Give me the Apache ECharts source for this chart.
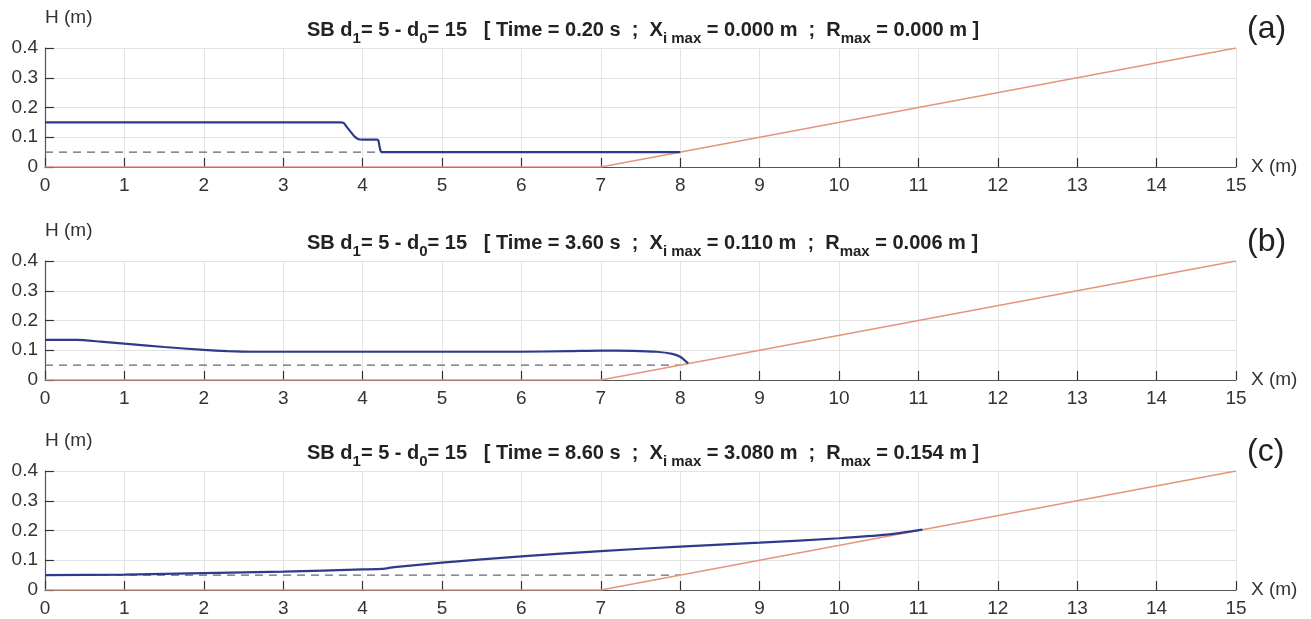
<!DOCTYPE html>
<html><head><meta charset="utf-8">
<script src="https://cdn.jsdelivr.net/npm/echarts@6/dist/echarts.min.js"></script>
<style>html,body{margin:0;padding:0;background:#fff}#c{width:1311px;height:619px}</style>
</head><body><div id="c"></div>
<script>
// ---- data ----
const xTicks = [0,1,2,3,4,5,6,7,8,9,10,11,12,13,14,15];
const yTicks = [0,0.1,0.2,0.3,0.4];
const bedX = [0, 7, 15];
const bedH = [0, 0, 0.4];
const swlX = [0, 8];
const swlH = [0.05, 0.05];
const waveA_X = [0, 3.72, 3.76, 3.8, 3.85, 3.9, 3.95, 4.0, 4.18, 4.2, 4.22, 4.24, 8.0];
const waveA_H = [0.15, 0.15, 0.148, 0.135, 0.118, 0.102, 0.093, 0.092, 0.092, 0.088, 0.06, 0.05, 0.05];
const waveB_X = [0, 0.4, 0.7, 1, 1.5, 2, 2.3, 2.6, 4, 5, 6, 6.6, 7.0, 7.4, 7.7, 7.9, 8.0, 8.1];
const waveB_H = [0.135, 0.135, 0.129, 0.122, 0.111, 0.101, 0.097, 0.095, 0.095, 0.095, 0.095, 0.097, 0.099, 0.098, 0.095, 0.088, 0.078, 0.056];
const waveC_X = [0, 1, 2, 3, 4, 4.25, 4.4, 5, 6, 7, 8, 9, 10, 10.6, 11.05];
const waveC_H = [0.05, 0.052, 0.057, 0.062, 0.069, 0.071, 0.077, 0.092, 0.113, 0.131, 0.146, 0.159, 0.174, 0.186, 0.203];
const times = ['0.20', '3.60', '8.60'];
const ximax = ['0.000', '0.110', '3.080'];
const rmax = ['0.000', '0.006', '0.154'];
const panelLabels = ['(a)', '(b)', '(c)'];
const waves = [[waveA_X, waveA_H], [waveB_X, waveB_H], [waveC_X, waveC_H]];

// ---- layout ----
const gridTops = [48, 261, 471];
const gridH = 119;
const FONT = '"Liberation Sans", Arial, sans-serif';

const zip = (xs, ys) => xs.map((x, i) => [x, ys[i]]);

const grids = [], xAxes = [], yAxes = [], series = [], titles = [];
gridTops.forEach((top, i) => {
  grids.push({left: 45, right: 75, top: top, height: gridH, containLabel: false});
  xAxes.push({
    type: 'value', gridIndex: i, min: 0, max: 15, interval: 1,
    name: 'X (m)', nameLocation: 'end', nameGap: 15,
    nameTextStyle: {fontFamily: FONT, fontSize: 19, color: '#333', verticalAlign: 'middle', padding: [0,0,6,0]},
    axisLine: {lineStyle: {color: '#555', width: 1.2}},
    axisTick: {inside: true, length: 9, lineStyle: {color: '#333', width: 1.2}},
    axisLabel: {fontFamily: FONT, fontSize: 19, color: '#333', margin: 9,
      formatter: v => xTicks.includes(v) ? String(v) : ''},
    splitLine: {show: true, lineStyle: {color: '#e3e3e3', width: 1}}
  });
  yAxes.push({
    type: 'value', gridIndex: i, min: 0, max: 0.4, interval: 0.1,
    name: 'H (m)', nameLocation: 'end', nameGap: 30,
    nameTextStyle: {fontFamily: FONT, fontSize: 19, color: '#333', align: 'left', verticalAlign: 'middle'},
    axisLine: {show: true, lineStyle: {color: '#555', width: 1.2}},
    axisTick: {show: true, inside: true, length: 9, lineStyle: {color: '#333', width: 1.2}},
    axisLabel: {fontFamily: FONT, fontSize: 19, color: '#333', margin: 7,
      formatter: v => { const t = yTicks.find(y => Math.abs(y - v) < 1e-9); return t === 0 ? '0' : t.toFixed(1); }},
    splitLine: {show: true, lineStyle: {color: '#e3e3e3', width: 1}}
  });
  series.push({
    type: 'line', xAxisIndex: i, yAxisIndex: i, data: zip(bedX, bedH), symbol: 'none',
    lineStyle: {color: '#e6957a', width: 1.5}, z: 3, silent: true
  });
  series.push({
    type: 'line', xAxisIndex: i, yAxisIndex: i, data: zip(swlX, swlH), symbol: 'none',
    lineStyle: {color: '#62657a', width: 1.4, type: [8, 6]}, z: 2, silent: true
  });
  series.push({
    type: 'line', xAxisIndex: i, yAxisIndex: i, data: zip(waves[i][0], waves[i][1]), symbol: 'none',
    smooth: 0.2, lineStyle: {color: '#2e3b8c', width: 2.2}, z: 4, silent: true
  });
  titles.push({
    text: 'SB d{s|1}= 5 - d{s|0}= 15   [ Time = ' + times[i] + ' s  ;  X{s|i max} = ' + ximax[i] + ' m  ;  R{s|max} = ' + rmax[i] + ' m ]',
    left: 302, top: top - 38,
    textStyle: {
      fontFamily: FONT, fontSize: 20, fontWeight: 'bold', color: '#222',
      rich: {s: {fontFamily: FONT, fontSize: 15, fontWeight: 'bold', color: '#222', padding: [16, 0, 0, 0]}}
    }
  });
  titles.push({
    text: panelLabels[i], left: 1242, top: top - 40,
    textStyle: {fontFamily: FONT, fontSize: 32, fontWeight: 'normal', color: '#222'}
  });
});

const chart = echarts.init(document.getElementById('c'), null, {renderer: 'canvas'});
chart.setOption({
  backgroundColor: '#fff',
  animation: false,
  title: titles,
  grid: grids,
  xAxis: xAxes,
  yAxis: yAxes,
  series: series
});
</script></body></html>
